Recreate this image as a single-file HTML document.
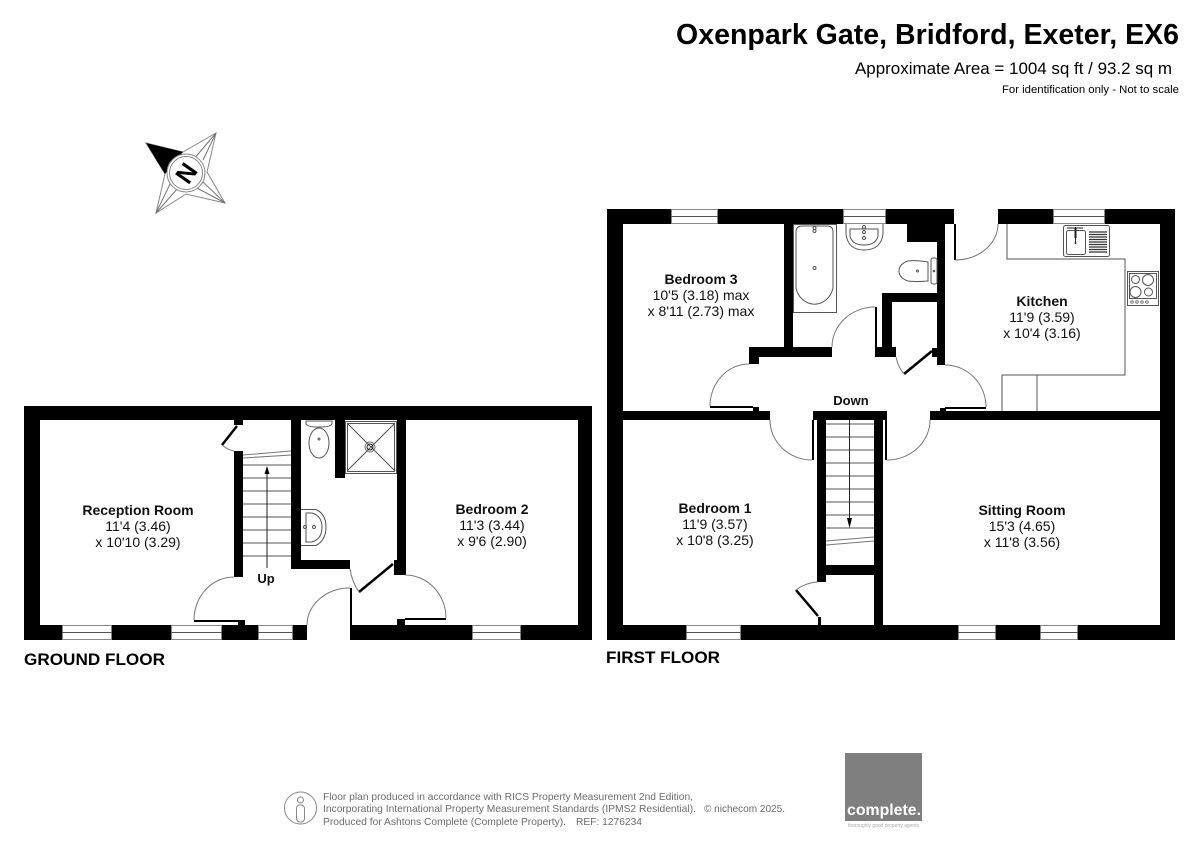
<!DOCTYPE html>
<html><head><meta charset="utf-8"><style>
html,body{margin:0;padding:0;background:#fff}
svg{display:block}
text{font-family:"Liberation Sans",sans-serif;fill:#000}
.b{font-weight:bold}
.r{font-size:14px;text-anchor:middle;fill:#111}
.w{fill:#000}
.l{fill:none;stroke:#555;stroke-width:1}
.k{fill:none;stroke:#222;stroke-width:1}
.a{fill:none;stroke:#777;stroke-width:1}
.f{fill:#6c6c6c;font-size:10.3px}
</style></head><body>
<svg width="1200" height="849" viewBox="0 0 1200 849" xmlns="http://www.w3.org/2000/svg">
<rect width="1200" height="849" fill="#fff"/>

<!-- heading -->
<text x="676" y="44" class="b" font-size="28.5px" textLength="503" lengthAdjust="spacing">Oxenpark Gate, Bridford, Exeter, EX6</text>
<text x="855" y="74" font-size="16.4px" textLength="317" lengthAdjust="spacingAndGlyphs">Approximate Area = 1004 sq ft / 93.2 sq m</text>
<text x="1002" y="93" font-size="11px" textLength="177" lengthAdjust="spacingAndGlyphs">For identification only - Not to scale</text>

<!-- compass -->
<g>
<polygon points="146,143 183,152 216,133 207,172 225,203 186,194 156,213 165,174" fill="#fff" stroke="#888" stroke-width="1"/>
<path d="M216,133L193,160M216,133L203,160M225,203L197,188M225,203L203,182M156,213L178,188M156,213L170,184" class="a"/>
<polygon points="146,143 183,152 165,174" fill="#000"/>
<circle cx="186" cy="173" r="19" fill="#fff" stroke="#888"/>
<circle cx="186" cy="173" r="16.500" fill="#fff" stroke="#888"/>
<text x="186" y="182" class="b" font-size="25px" text-anchor="middle" transform="rotate(-55 186 173)">N</text>
</g>

<!-- GROUND FLOOR walls -->
<g class="w">
<rect x="24" y="406" width="568" height="14"/>
<rect x="24" y="406" width="16" height="234"/>
<rect x="578" y="406" width="14" height="234"/>
<rect x="24" y="625" width="283" height="15"/>
<rect x="350" y="625" width="242" height="15"/>
<rect x="234" y="451" width="9" height="126"/>
<rect x="234" y="420" width="9" height="5"/>
<rect x="291" y="420" width="10" height="149"/>
<rect x="291" y="560" width="59" height="9"/>
<rect x="335" y="420" width="10" height="58"/>
<rect x="397" y="420" width="9" height="155"/>
<rect x="394" y="560" width="3" height="15"/>
<rect x="238" y="620" width="7" height="5"/>
<rect x="397" y="619" width="8" height="6"/>
<rect x="194" y="620" width="44" height="2"/>
<rect x="405" y="618" width="41" height="2"/>
<rect x="350" y="588" width="2" height="37"/>
</g>
<!-- ground windows -->
<g fill="#fff" stroke="#888" stroke-width="1">
<rect x="62.5" y="625.5" width="49" height="14"/>
<rect x="171.5" y="625.5" width="50" height="14"/>
<rect x="258.5" y="625.5" width="34" height="14"/>
<rect x="472.5" y="625.5" width="48" height="14"/>
</g>
<path d="M62,632.5H112M171,632.5H222M258,632.5H293M472,632.5H521" class="l"/>
<!-- ground door leaves / arcs -->
<path d="M222,445L237,426" stroke="#000" stroke-width="2.5" fill="none"/>
<path d="M359,592L393,564" stroke="#000" stroke-width="2.5" fill="none"/>
<path d="M222,445Q228,450 234,451" class="a"/>
<path d="M350,569Q352,582 359,592" class="a"/>
<path d="M234,577A40,43 0 0 0 194,620" class="a"/>
<path d="M405,575A41,43 0 0 1 446,618" class="a"/>
<path d="M307,625A43,37 0 0 1 350,588" class="a"/>
<!-- ground stairs -->
<path d="M243,465H291M243,478H291M243,491H291M243,504H291M243,517H291M243,530H291M243,543H291M243,556H291" class="l"/>
<path d="M243,455L291,451M243,458L291,455" class="a"/>
<path d="M267,568V470" class="k"/>
<polygon points="267,466 264.5,474 269.500,474" fill="#000"/>
<!-- ground wc -->
<path d="M306,421H332V424Q330,427 322,427H316Q308,427 306,424Z" class="l" fill="#fff"/>
<ellipse cx="319" cy="443" rx="10" ry="15" class="l"/>
<circle cx="319" cy="439" r="1" class="l"/>
<rect x="345.500" y="421.500" width="51" height="52" class="l"/>
<rect x="347.500" y="423.500" width="47" height="48" class="l"/>
<path d="M347,423L395,471M395,423L347,471" class="l"/>
<circle cx="370" cy="447" r="5" class="a"/>
<circle cx="370" cy="447" r="3" class="k"/>
<path d="M301,509.500H316Q326,514 326,527Q326,540 316,545.500H301" class="l"/>
<path d="M306,513V542H312Q322,539 322,527Q322,516 312,513Z" class="l"/>
<circle cx="305" cy="527" r="1.500" class="l"/><circle cx="314" cy="527" r="1.500" class="l"/>

<!-- FIRST FLOOR walls -->
<g class="w">
<rect x="607" y="209" width="347" height="15"/>
<rect x="998" y="209" width="177" height="15"/>
<rect x="607" y="209" width="16" height="431"/>
<rect x="1160" y="209" width="15" height="431"/>
<rect x="607" y="625" width="568" height="15"/>
<rect x="623" y="411" width="147" height="9"/>
<rect x="930" y="411" width="230" height="9"/>
<rect x="784" y="224" width="9" height="125"/>
<rect x="749" y="347" width="83" height="10"/>
<rect x="749" y="347" width="10" height="17"/>
<rect x="753" y="407" width="6" height="4"/>
<rect x="710" y="406" width="43" height="2"/>
<rect x="817" y="411" width="9" height="171"/>
<rect x="874" y="411" width="9" height="214"/>
<rect x="813" y="411" width="74" height="9"/>
<rect x="812" y="420" width="2" height="40"/>
<rect x="885" y="420" width="2" height="40"/>
<rect x="817" y="565" width="57" height="10"/>
<rect x="818" y="617" width="3" height="8"/>
<rect x="907" y="224" width="30" height="18"/>
<rect x="937" y="224" width="8" height="141"/>
<rect x="954" y="224" width="2" height="36"/>
<rect x="882" y="293" width="55" height="9"/>
<rect x="882" y="293" width="10" height="64"/>
<rect x="875" y="347" width="21" height="10"/>
<rect x="875" y="307" width="2" height="40"/>
<rect x="932" y="348" width="5" height="9"/>
<rect x="940" y="408" width="6" height="3"/>
<rect x="945" y="407" width="41" height="2"/>
</g>
<!-- first windows -->
<g fill="#fff" stroke="#888" stroke-width="1">
<rect x="671.500" y="209.500" width="46" height="14"/>
<rect x="843.500" y="209.500" width="42" height="14"/>
<rect x="1053.500" y="209.500" width="51" height="14"/>
<rect x="686.500" y="625.500" width="54" height="14"/>
<rect x="958.500" y="625.500" width="37" height="14"/>
<rect x="1040.500" y="625.500" width="37" height="14"/>
</g>
<path d="M671,216.500H718M843,216.500H886M1053,216.500H1105M686,632.500H741M958,632.500H996M1040,632.500H1078" class="l"/>
<!-- first door leaves / arcs -->
<path d="M796,590L818,616" stroke="#000" stroke-width="2.500" fill="none"/>
<path d="M904,374L932,351" stroke="#000" stroke-width="2.500" fill="none"/>
<path d="M796,590Q805,583 817,582" class="a"/>
<path d="M896,357Q898,367 904,374" class="a"/>
<path d="M749,364A39,42 0 0 0 710,406" class="a"/>
<path d="M832,347A43,40 0 0 1 875,307" class="a"/>
<path d="M770,420A42,40 0 0 0 812,460" class="a"/>
<path d="M887,460A43,40 0 0 0 930,420" class="a"/>
<path d="M945,365A41,42 0 0 1 986,407" class="a"/>
<path d="M998,224A43,36 0 0 1 955,260" class="a"/>
<!-- first stairs -->
<path d="M826,424H874M826,437H874M826,450H874M826,463H874M826,476H874M826,489H874M826,502H874M826,515H874M826,528H874" class="l"/>
<path d="M826,541L874,537M826,545L874,541" class="a"/>
<path d="M849.500,420V520" class="k"/>
<polygon points="849.500,528 847,518 852,518" fill="#000"/>
<!-- bath -->
<rect x="793.500" y="224.500" width="43" height="88" class="l"/>
<path d="M796,232Q796,226 802,226H827Q833,226 833,232V288A19,21 0 0 1 796,288Z" class="l"/>
<circle cx="814.500" cy="268" r="1.500" class="l"/>
<circle cx="814.500" cy="228" r="1.500" class="l"/><circle cx="814.500" cy="231" r="1.500" class="l"/>
<!-- basin -->
<path d="M846,224V234Q848,250 864,250Q881,250 883,234V224" class="l"/>
<path d="M850,229H878V236Q876,245 864,245Q852,245 850,236Z" class="l"/>
<circle cx="864" cy="227" r="1.500" class="l"/><circle cx="864" cy="232" r="1.500" class="l"/><circle cx="864" cy="238" r="1.500" class="l"/>
<!-- wc -->
<path d="M928,262V281Q916,282 908,281Q899,278 899,271Q899,264 908,261Q916,260 928,262Z" class="l"/>
<circle cx="917.500" cy="271" r="1" class="l"/>
<rect x="931" y="258" width="6" height="26" rx="2" class="l"/>
<circle cx="934" cy="271" r="0.800" class="l"/>
<!-- kitchen -->
<path d="M1007,224V259H1125V375H1002V411M1037,375V411" class="l"/>
<rect x="1063.500" y="225.500" width="46" height="31" rx="2" class="l"/>
<rect x="1066.500" y="230.500" width="19" height="24" rx="2" class="l"/>
<path d="M1067,228H1083M1075.500,227V242" stroke="#222" stroke-width="1" fill="none"/>
<path d="M1075.500,228V238" stroke="#222" stroke-width="2" fill="none"/>
<circle cx="1075.500" cy="243" r="1" fill="#222"/>
<path d="M1089,232H1107M1089,234.500H1107M1089,237H1107M1089,239.500H1107M1089,242H1107M1089,244.500H1107M1089,247H1107M1089,249.500H1107M1089,252H1107" stroke="#333" stroke-width="1.200" fill="none"/>
<rect x="1127.500" y="271.500" width="31" height="34" class="l"/>
<rect x="1129.500" y="273.500" width="27" height="25" class="l"/>
<circle cx="1135.500" cy="279.500" r="4" class="l"/>
<circle cx="1148" cy="280" r="5.500" class="l"/>
<circle cx="1135.500" cy="292" r="5.500" class="l"/>
<circle cx="1148.500" cy="292" r="4" class="l"/>
<circle cx="1132" cy="302" r="1.300" class="a"/><circle cx="1137" cy="302" r="1.300" class="a"/><circle cx="1142" cy="302" r="1.300" class="a"/><circle cx="1147" cy="302" r="1.300" class="a"/>

<!-- room labels -->
<text x="138" y="515" class="r b">Reception Room</text>
<text x="138" y="531" class="r">11'4 (3.46)</text>
<text x="138" y="547" class="r">x 10'10 (3.29)</text>
<text x="492" y="514" class="r b">Bedroom 2</text>
<text x="492" y="530" class="r">11'3 (3.44)</text>
<text x="492" y="546" class="r">x 9'6 (2.90)</text>
<text x="266" y="583" class="r b" style="font-size:13px">Up</text>
<text x="851" y="405" class="r b" style="font-size:13px">Down</text>
<text x="701" y="284" class="r b">Bedroom 3</text>
<text x="701" y="300" class="r">10'5 (3.18) max</text>
<text x="701" y="316" class="r">x 8'11 (2.73) max</text>
<text x="1042" y="306" class="r b">Kitchen</text>
<text x="1042" y="322" class="r">11'9 (3.59)</text>
<text x="1042" y="338" class="r">x 10'4 (3.16)</text>
<text x="715" y="513" class="r b">Bedroom 1</text>
<text x="715" y="529" class="r">11'9 (3.57)</text>
<text x="715" y="545" class="r">x 10'8 (3.25)</text>
<text x="1022" y="515" class="r b">Sitting Room</text>
<text x="1022" y="531" class="r">15'3 (4.65)</text>
<text x="1022" y="547" class="r">x 11'8 (3.56)</text>
<text x="24" y="665" class="b" font-size="16.500px" textLength="141" lengthAdjust="spacingAndGlyphs">GROUND FLOOR</text>
<text x="606" y="663" class="b" font-size="16.500px" textLength="114" lengthAdjust="spacingAndGlyphs">FIRST FLOOR</text>

<!-- footer -->
<circle cx="300.500" cy="808" r="16" fill="none" stroke="#888"/>
<circle cx="300.500" cy="800" r="3" fill="none" stroke="#888"/>
<rect x="296.500" y="805" width="8" height="17" rx="3.500" fill="none" stroke="#888"/>
<text x="323" y="800" class="f" textLength="370" lengthAdjust="spacingAndGlyphs">Floor plan produced in accordance with RICS Property Measurement 2nd Edition,</text>
<text x="323" y="812" class="f" textLength="373" lengthAdjust="spacingAndGlyphs">Incorporating International Property Measurement Standards (IPMS2 Residential).</text>
<text x="704" y="812" class="f" textLength="81" lengthAdjust="spacingAndGlyphs">© nichecom 2025.</text>
<text x="323" y="825" class="f" textLength="243" lengthAdjust="spacingAndGlyphs">Produced for Ashtons Complete (Complete Property).</text>
<text x="576" y="825" class="f" textLength="66" lengthAdjust="spacingAndGlyphs">REF:  1276234</text>
<rect x="845" y="753" width="77" height="68" fill="#7f7f7f"/>
<text x="847" y="815" class="b" font-size="15.500px" style="fill:#fff" textLength="74" lengthAdjust="spacingAndGlyphs">complete.</text>
<text x="848" y="827" font-size="5px" style="fill:#aaa" textLength="71" lengthAdjust="spacingAndGlyphs">thoroughly good property agents</text>
</svg>
</body></html>
